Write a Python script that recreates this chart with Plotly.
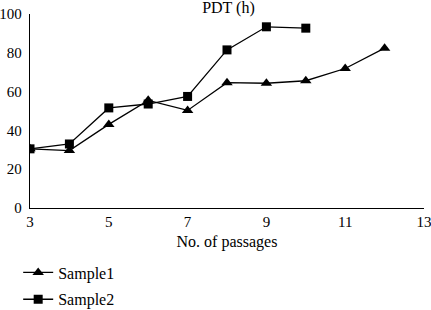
import plotly.graph_objects as go

passages1 = [3, 4, 5, 6, 7, 8, 9, 10, 11, 12]
sample1 = [30.5, 29.6, 43.1, 55.5, 50.3, 64.6, 64.3, 65.6, 71.9, 82.4]
passages2 = [3, 4, 5, 6, 7, 8, 9, 10]
sample2 = [30.5, 33.0, 51.6, 53.6, 57.5, 81.5, 93.4, 92.7]

x_ticks = [3, 5, 7, 9, 11, 13]
y_ticks = [0, 20, 40, 60, 80, 100]

font = dict(family="Liberation Serif", size=15, color="black")

fig = go.Figure()
fig.add_trace(go.Scatter(x=passages1, y=sample1, mode="lines+markers", name="Sample1",
                         line=dict(color="black", width=1.3),
                         marker=dict(symbol="triangle-up", size=10, color="black"),
                         legendgroup="a"))
fig.add_trace(go.Scatter(x=passages2, y=sample2, mode="lines+markers", name="Sample2",
                         line=dict(color="black", width=1.3),
                         marker=dict(symbol="square", size=9, color="black"),
                         legendgroup="b"))

fig.update_layout(
    width=431, height=310,
    margin=dict(l=30, r=7, t=14, b=102, autoexpand=False),
    paper_bgcolor="white", plot_bgcolor="white",
    font=font,
    title=dict(text="PDT (h)", x=0.53, xanchor="center", y=0.975, yanchor="middle",
               font=dict(size=16)),
    xaxis=dict(range=[3, 13], tickvals=x_ticks, showgrid=False, zeroline=False,
               showline=True, linecolor="black", linewidth=1.3, ticks="",
               tickfont=dict(size=15), ticklabeloverflow="allow",
               title=dict(text="No. of passages", standoff=6, font=dict(size=16))),
    yaxis=dict(range=[0, 100], tickvals=y_ticks, showgrid=False, zeroline=False,
               showline=True, linecolor="black", linewidth=1.3, ticks="",
               tickfont=dict(size=15), ticklabelstandoff=4, ticklabeloverflow="allow"),
    legend=dict(x=-0.03, y=-0.245, xanchor="left", yanchor="top", orientation="v",
                tracegroupgap=3, itemwidth=30, font=dict(size=16)),
    showlegend=True,
)

fig.write_html("out.html")
